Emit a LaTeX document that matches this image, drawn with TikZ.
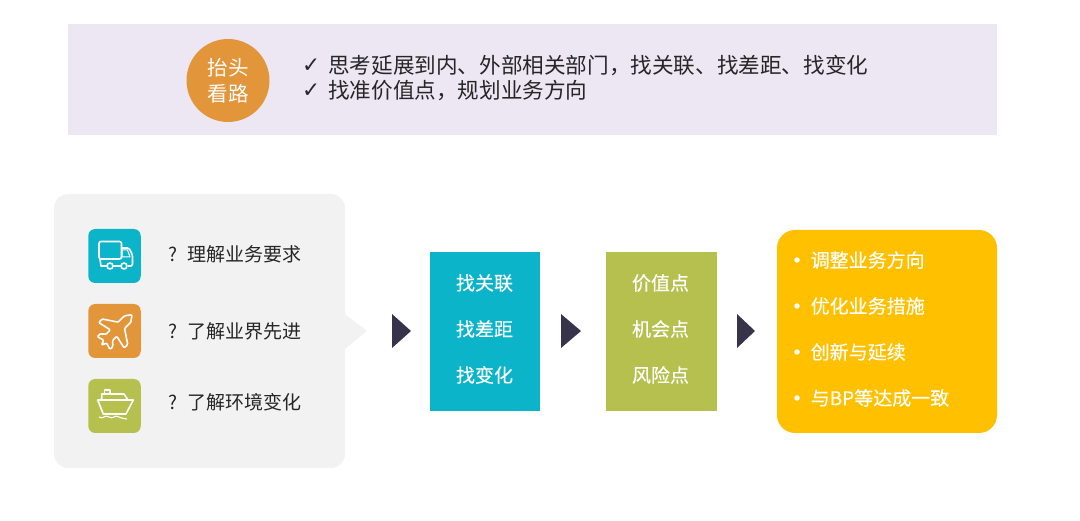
\documentclass[tikz,border=0pt]{standalone}
\usepackage{fontspec}
\setmainfont{Noto Sans CJK SC}
\newfontfamily\checkfont{DejaVu Sans}
\newfontfamily\heavyfont[FakeBold=0.25]{Noto Sans CJK SC}
\usepackage{tikz}
\usetikzlibrary{positioning}
\definecolor{barlilac}{HTML}{EDE6F3}
\definecolor{panelgray}{HTML}{F2F2F2}
\definecolor{tealblue}{HTML}{0BB4C9}
\definecolor{warmorange}{HTML}{E39539}
\definecolor{olivegreen}{HTML}{B5C04F}
\definecolor{ambergold}{HTML}{FFC000}
\definecolor{darkslate}{HTML}{37334A}
\definecolor{inkgray}{HTML}{262626}
\tikzset{
  bartext/.style={anchor=west,inner sep=0pt,text=inkgray,font=\fontsize{21.6}{26}\selectfont},
  asktext/.style={anchor=west,inner sep=0pt,text=inkgray,font=\fontsize{19}{23}\selectfont},
  boxtext/.style={inner sep=0pt,text=white,font=\heavyfont\fontsize{19}{23}\selectfont},
  lefttext/.style={boxtext,anchor=west},
  listdot/.style={circle,fill=white,minimum size=5.5pt,inner sep=0pt},
  tile/.style={rounded corners=7pt,minimum width=52.5pt,minimum height=54pt,inner sep=0pt},
  iconline/.style={draw=white,line width=1.6pt,line join=round},
  flowmark/.style={fill=darkslate}
}
\begin{document}
\begin{tikzpicture}[x=1pt,y=-1pt]
    \useasboundingbox (0,0) rectangle (1080,521);
    \fill[barlilac] (68,24) rectangle (997,135);
    \node[circle,fill=warmorange,minimum size=83pt,inner sep=0pt,text=white,align=center,
      font=\fontsize{20.5}{26}\selectfont] (lookup) at (228,80.5) {抬头\\看路};
    \node[bartext] (checka) at (302,65.5) {\checkfont ✓};
    \node[bartext] (linea) at (328,65.5) {思考延展到内、外部相关部门，找关联、找差距、找变化};
    \node[bartext] (checkb) at (302,91) {\checkfont ✓};
    \node[bartext] (lineb) at (328,91) {找准价值点，规划业务方向};

    \fill[panelgray,rounded corners=14pt] (54,194) -- (345,194) -- (345,468) -- (54,468) -- cycle;
    \fill[panelgray] (344,314) -- (345,314) -- (367,331) -- (345,349) -- (344,349) -- cycle;

    \node[tile,fill=tealblue] (trucktile) at (114.5,256) {};
    \node[tile,fill=warmorange] (planetile) at (114.5,331) {};
    \node[tile,fill=olivegreen] (shiptile) at (114.5,406) {};

    \draw[iconline,rounded corners=2pt] (99,241.5) rectangle (121.5,259);
    \draw[iconline,rounded corners=1.5pt] (121.5,248) -- (129,248) -- (132.5,255) -- (132.5,266) -- (128,266);
    \draw[iconline,line width=1pt] (122,250) -- (127.5,250) -- (130,257) -- (122,257) -- cycle;
    \draw[iconline] (107,266) -- (101,266) -- (100,259);
    \draw[iconline] (113,266) -- (121,266);
    \draw[iconline] (110,266) circle (3pt);
    \draw[iconline] (124,266) circle (3pt);

    \draw[iconline,rounded corners=1pt,shift={(115.7,331)},rotate=-45]
      (0,-23) -- (4.5,-17) -- (4.5,-8) -- (18,1) -- (18,6) -- (4.5,3) -- (4.5,9) -- (9,13) -- (9,17)
      -- (2,15) -- (0,20) -- (-2,15) -- (-9,17) -- (-9,13) -- (-4.5,9) -- (-4.5,3) -- (-18,6) -- (-18,1)
      -- (-4.5,-8) -- (-4.5,-17) -- cycle;

    \draw[iconline] (97.7,400) -- (133.3,400) -- (126,414) -- (103.3,414) -- cycle;
    \draw[iconline] (101.7,400) -- (101.7,394) -- (124,394) -- (128,400);
    \draw[iconline] (104.3,394) -- (104.3,390) -- (110,390) -- (110,394);
    \draw[iconline,line width=1.1pt] (99,417) .. controls (103,420) and (105,414) .. (109,417)
      .. controls (113,420) and (115,414) .. (119,417) .. controls (122,419) and (124,418) .. (127,419);

    \node[asktext] (marka) at (168,254) {?};
    \node[asktext] (aska) at (187,254) {理解业务要求};
    \node[asktext] (markb) at (168,331) {?};
    \node[asktext] (askb) at (187,331) {了解业界先进};
    \node[asktext] (markc) at (168,402) {?};
    \node[asktext] (askc) at (187,402) {了解环境变化};

    \fill[flowmark] (392,314) -- (411,331) -- (392,348) -- cycle;
    \fill[flowmark] (561,314) -- (581,331) -- (561,348) -- cycle;
    \fill[flowmark] (737,314) -- (755,331) -- (737,348) -- cycle;

    \fill[tealblue] (430,252) rectangle (540,411);
    \node[boxtext] (relate) at (484.5,283) {找关联};
    \node[boxtext] (gap) at (484.5,329) {找差距};
    \node[boxtext] (change) at (484.5,375) {找变化};

    \fill[olivegreen] (606,252) rectangle (717,411);
    \node[boxtext] (value) at (660.5,283) {价值点};
    \node[boxtext] (chance) at (660.5,329) {机会点};
    \node[boxtext] (risk) at (660.5,375) {风险点};

    \fill[ambergold,rounded corners=18pt] (777,230) rectangle (997,433);
    \node[listdot] (dota) at (797,260) {};
    \node[lefttext] (adjust) at (810.5,260) {调整业务方向};
    \node[listdot] (dotb) at (797,306) {};
    \node[lefttext] (optimize) at (810.5,306) {优化业务措施};
    \node[listdot] (dotc) at (797,352) {};
    \node[lefttext] (renew) at (810.5,352) {创新与延续};
    \node[listdot] (dotd) at (797,398) {};
    \node[lefttext] (agree) at (810.5,398) {与BP等达成一致};
  \end{tikzpicture}
\end{document}
